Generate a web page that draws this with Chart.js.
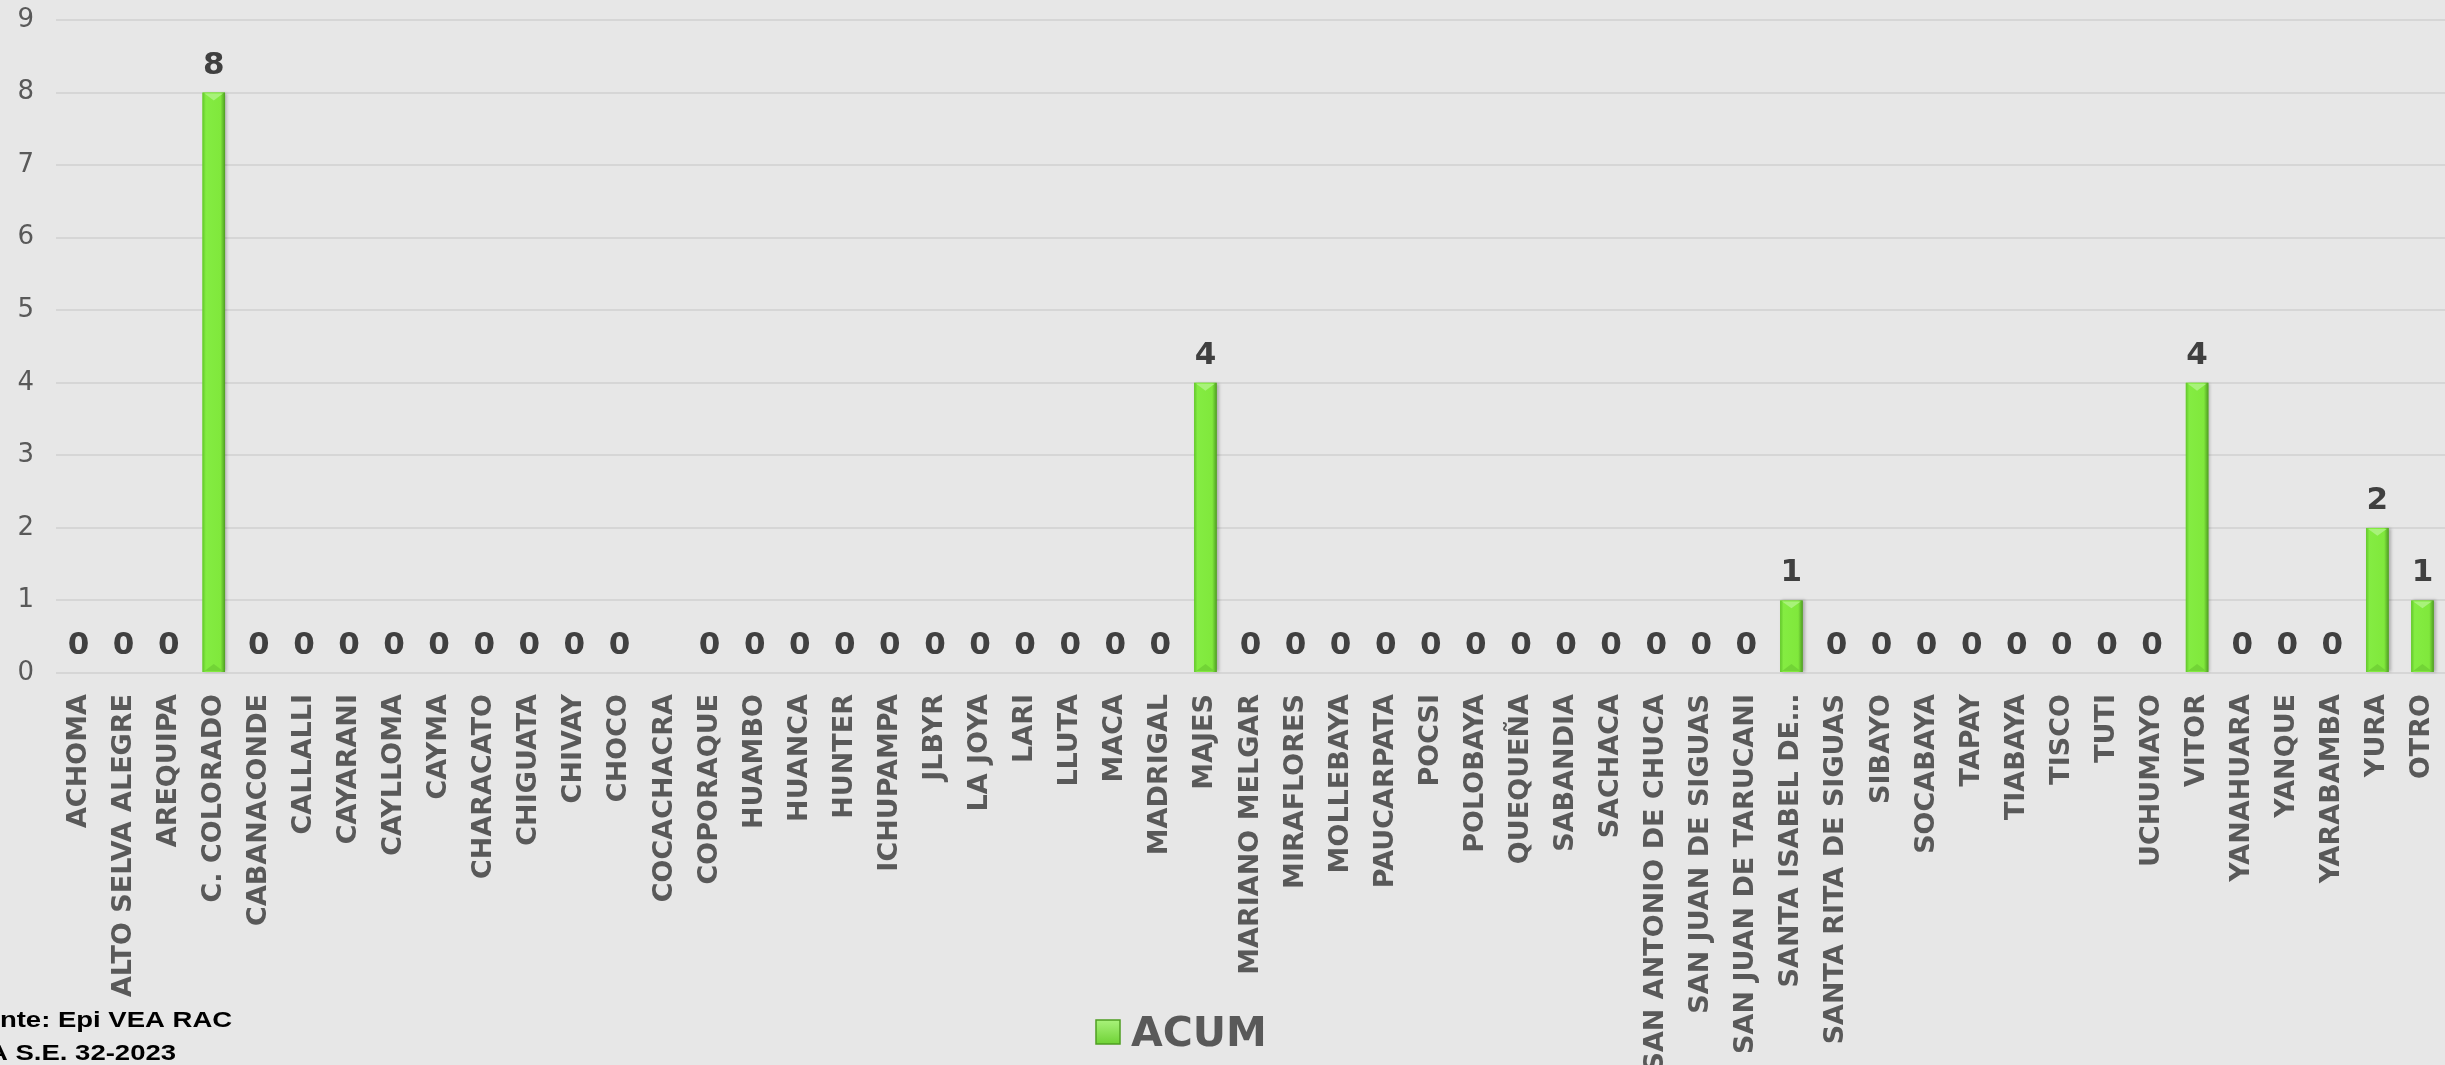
<!DOCTYPE html>
<html>
<head>
<meta charset="utf-8">
<script src="https://cdn.jsdelivr.net/npm/chart.js@4/dist/chart.umd.min.js"></script>
<style>
  html, body { margin: 0; padding: 0; background: #e7e7e7; }
  #wrap { width: 2445px; height: 1065px; }
</style>
</head>
<body>
<div id="wrap"><canvas id="myChart" width="2445" height="1065"></canvas></div>
<script>
// Distritos y casos acumulados
const distritos = [
  "ACHOMA", "ALTO SELVA ALEGRE", "AREQUIPA", "C. COLORADO", "CABANACONDE",
  "CALLALLI", "CAYARANI", "CAYLLOMA", "CAYMA", "CHARACATO", "CHIGUATA",
  "CHIVAY", "CHOCO", "COCACHACRA", "COPORAQUE", "HUAMBO", "HUANCA", "HUNTER",
  "ICHUPAMPA", "JLBYR", "LA JOYA", "LARI", "LLUTA", "MACA", "MADRIGAL",
  "MAJES", "MARIANO MELGAR", "MIRAFLORES", "MOLLEBAYA", "PAUCARPATA", "POCSI",
  "POLOBAYA", "QUEQUEÑA", "SABANDIA", "SACHACA", "SAN ANTONIO DE CHUCA",
  "SAN JUAN DE SIGUAS", "SAN JUAN DE TARUCANI", "SANTA ISABEL DE…",
  "SANTA RITA DE SIGUAS", "SIBAYO", "SOCABAYA", "TAPAY", "TIABAYA", "TISCO",
  "TUTI", "UCHUMAYO", "VITOR", "YANAHUARA", "YANQUE", "YARABAMBA", "YURA", "OTRO"
];
const acum = [
  0, 0, 0, 8, 0,
  0, 0, 0, 0, 0, 0,
  0, 0, null, 0, 0, 0, 0,
  0, 0, 0, 0, 0, 0, 0,
  4, 0, 0, 0, 0, 0,
  0, 0, 0, 0, 0,
  0, 0, 1,
  0, 0, 0, 0, 0, 0,
  0, 0, 4, 0, 0, 0, 2, 1
];
const yTicks = [0, 1, 2, 3, 4, 5, 6, 7, 8, 9];
const fuente = ["Fuente: Epi VEA RAC", "A S.E. 32-2023"];

const verde = "#80e83c";
const gris = "#595959";

// Relieve de las barras: degradado lateral y triángulo claro arriba
const bevelPlugin = {
  id: "bevel",
  afterDatasetsDraw(chart) {
    const c = chart.ctx;
    chart.getDatasetMeta(0).data.forEach((bar, i) => {
      if (!acum[i]) return;
      const w = bar.width, l = bar.x - w / 2, r = bar.x + w / 2;
      const top = bar.y, bot = bar.base;
      const g = c.createLinearGradient(l, 0, r, 0);
      g.addColorStop(0, "#62c62b");
      g.addColorStop(0.15, "#84ec42");
      g.addColorStop(0.8, "#80e83c");
      g.addColorStop(1, "#4f9e22");
      c.save();
      c.shadowColor = "rgba(0,0,0,0.25)";
      c.shadowOffsetX = 2;
      c.shadowBlur = 3;
      c.fillStyle = g;
      c.fillRect(l, top, w, bot - top);
      c.restore();
      c.save();
      c.fillStyle = "#a8f27a";
      c.beginPath();
      c.moveTo(l + 2, top + 1);
      c.lineTo(r - 2, top + 1);
      c.lineTo(bar.x, top + w * 0.35);
      c.closePath();
      c.fill();
      c.fillStyle = "#72d436";
      c.beginPath();
      c.moveTo(l + 2, bot - 1);
      c.lineTo(r - 2, bot - 1);
      c.lineTo(bar.x, bot - w * 0.35);
      c.closePath();
      c.fill();
      c.restore();
    });
  }
};

// Etiquetas de valor, leyenda y fuente
const textosPlugin = {
  id: "textos",
  afterDraw(chart) {
    const c = chart.ctx;
    c.save();
    c.font = "bold 31px 'DejaVu Sans'";
    c.fillStyle = "#404040";
    c.textAlign = "center";
    c.textBaseline = "alphabetic";
    chart.getDatasetMeta(0).data.forEach((bar, i) => {
      if (acum[i] === null) return;
      c.fillText(String(acum[i]), bar.x, bar.y - 19);
    });

    // leyenda
    const ds = chart.data.datasets[0];
    const bx = 1096, by = 1020, bs = 24;
    const lg = c.createLinearGradient(bx, by, bx, by + bs);
    lg.addColorStop(0, "#a8f27a");
    lg.addColorStop(1, "#70d236");
    c.fillStyle = lg;
    c.fillRect(bx, by, bs, bs);
    c.strokeStyle = "#4f9e22";
    c.lineWidth = 1.5;
    c.strokeRect(bx, by, bs, bs);
    c.font = "bold 41px 'DejaVu Sans'";
    c.fillStyle = gris;
    c.textAlign = "left";
    c.fillText(ds.label, bx + 35, 1046);

    // fuente (texto algo ensanchado)
    c.font = "bold 22px 'Liberation Sans'";
    c.fillStyle = "#000";
    c.scale(1.25, 1);
    c.fillText(fuente[0], -49 / 1.25, 1027);
    c.fillText(fuente[1], -12 / 1.25, 1060);
    c.restore();
  }
};

const ctx = document.getElementById("myChart").getContext("2d");

const config = {
  type: "bar",
  data: {
    labels: distritos,
    datasets: [{
      label: "ACUM",
      data: acum,
      backgroundColor: verde,
      borderWidth: 0,
      barPercentage: 0.5,
      categoryPercentage: 1.0
    }]
  },
  options: {
    responsive: false,
    animation: false,
    layout: { padding: { top: 20, right: 0, left: 0, bottom: 0 } },
    plugins: {
      legend: { display: false },
      tooltip: { enabled: false }
    },
    scales: {
      x: {
        grid: { display: false },
        border: { display: false },
        ticks: {
          autoSkip: false,
          minRotation: 90,
          maxRotation: 90,
          padding: 13,
          color: gris,
          font: { family: "DejaVu Sans", size: 27, weight: "bold" }
        },
        afterFit(scale) {
          scale.height = 392;
          scale.paddingLeft = 0;
          scale.paddingRight = 0;
        }
      },
      y: {
        min: 0,
        max: 9,
        afterBuildTicks(scale) { scale.ticks = yTicks.map(v => ({ value: v })); },
        grid: { color: "#d6d6d6", lineWidth: 2, drawTicks: false },
        border: { display: false },
        ticks: {
          padding: 22,
          color: gris,
          font: { family: "DejaVu Sans", size: 26 }
        },
        afterFit(scale) {
          scale.width = 56;
          scale.paddingTop = 0;
          scale.paddingBottom = 0;
        }
      }
    }
  },
  plugins: [bevelPlugin, textosPlugin]
};

const myChart = new Chart(ctx, config);
</script>
</body>
</html>
